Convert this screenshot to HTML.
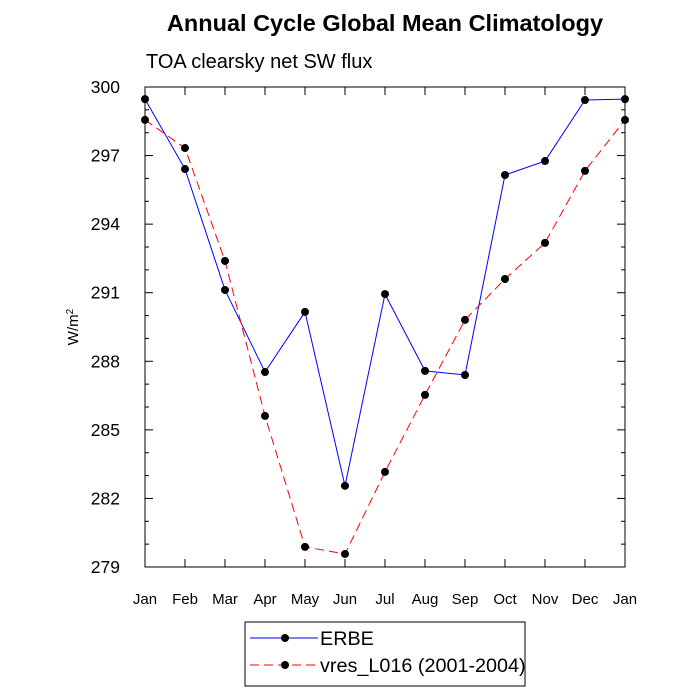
<!DOCTYPE html>
<html><head><meta charset="utf-8"><style>
body{margin:0;background:#fff;}
svg{display:block;font-family:"Liberation Sans",sans-serif;}
</style></head><body>
<svg id="chart" width="700" height="700">
<text x="385" y="31" text-anchor="middle" font-size="23.5" font-weight="bold">Annual Cycle Global Mean Climatology</text>
<text x="146" y="68" font-size="20">TOA clearsky net SW flux</text>
<rect x="145" y="87" width="480" height="480" fill="none" stroke="#000" stroke-width="1"/>
<g id="axes"></g>
<g id="series"></g>
<text transform="translate(78,327) rotate(-90)" text-anchor="middle" font-size="15">W/m<tspan dy="-5" font-size="10">2</tspan></text>
<g>
<rect x="245" y="622" width="280" height="64" fill="#fff" stroke="#000"/>
<g>
<line x1="250" y1="638" x2="318" y2="638" stroke="#0000ff" stroke-width="1"/>
<circle cx="285" cy="638" r="4" fill="#000"/>
<text x="320" y="645" font-size="19.8">ERBE</text></g>
<g>
<line x1="250" y1="665" x2="318" y2="665" stroke="#ff0000" stroke-width="1" stroke-dasharray="9,5"/>
<circle cx="285" cy="665" r="4" fill="#000"/>
<text x="320" y="672" font-size="19.8">vres_L016 (2001-2004)</text></g>
</g>
</svg>
<script>
const months=["Jan","Feb","Mar","Apr","May","Jun","Jul","Aug","Sep","Oct","Nov","Dec","Jan"];
const erbe=[299.47,296.41,291.12,287.53,290.16,282.55,290.94,287.58,287.40,296.15,296.76,299.43,299.47];
const vres=[298.56,297.33,292.39,285.61,279.88,279.57,283.16,286.53,289.81,291.60,293.18,296.33,298.56];
const yTicks=[279,282,285,288,291,294,297,300];
const NS="http://www.w3.org/2000/svg";
const X0=145,X1=625,Y0=567,Y1=87,YMIN=279,YMAX=300;
const xs=i=>X0+(X1-X0)*i/(months.length-1);
const ys=v=>Y0-(Y0-Y1)*(v-YMIN)/(YMAX-YMIN);
function mk(t,a,p){const e=document.createElementNS(NS,t);for(const k in a)e.setAttribute(k,a[k]);p.appendChild(e);return e;}
const ax=document.getElementById('axes');
months.forEach((m,i)=>{
 const x=xs(i);
 const t1=mk('line',{x1:x,y1:Y0,x2:x,y2:Y0-8,stroke:'#000'},ax);
 
 
 mk('line',{x1:x,y1:Y1,x2:x,y2:Y1+8,stroke:'#000'},ax);
 const l=mk('text',{x:x,y:604,'text-anchor':'middle','font-size':'15'},ax);
 l.textContent=m;
 
 
});
for(let v=YMIN;v<=YMAX;v++){
 const y=ys(v),major=yTicks.includes(v),len=major?8:4;
 mk('line',{x1:X0,y1:y,x2:X0+len,y2:y,stroke:'#000'},ax);
 mk('line',{x1:X1,y1:y,x2:X1-len,y2:y,stroke:'#000'},ax);
}
yTicks.forEach(v=>{
 const l=mk('text',{x:120,y:ys(v)+6,'text-anchor':'end','font-size':'17.5'},ax);
 l.textContent=v;
 
 
});
const sg=document.getElementById('series');
function draw(vals,color,dash,name){
 const g=mk('g',{},sg);
 
 
 const a={points:vals.map((v,i)=>xs(i)+','+ys(v)).join(' '),fill:'none',stroke:color,'stroke-width':1};
 if(dash)a['stroke-dasharray']=dash;
 mk('polyline',a,g);
 vals.forEach((v,i)=>{
  const c=mk('circle',{cx:xs(i),cy:ys(v),r:4,fill:'#000'},g);
  
  
 });
}
draw(erbe,'#0000ff',null,'series-erbe');
draw(vres,'#ff0000','9,5','series-vres');
</script>
</body></html>
